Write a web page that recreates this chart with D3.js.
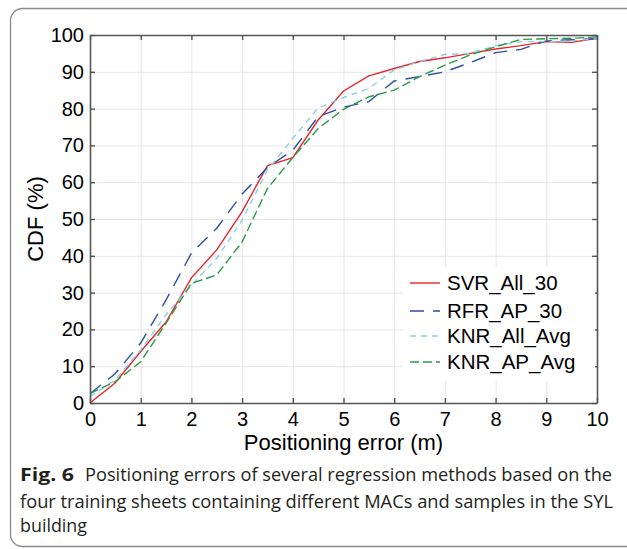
<!DOCTYPE html>
<html>
<head>
<meta charset="utf-8">
<script src="https://cdn.jsdelivr.net/npm/d3@7"></script>
<style>
body{margin:0;background:#fff;}
svg{display:block;}
</style>
</head>
<body>
<script>
// positioning error (m) sampled every 0.5 m
let errors = [0,0.5,1,1.5,2,2.5,3,3.5,4,4.5,5,5.5,6,6.5,7,7.5,8,8.5,9,9.5,10];
let svrAll30 = [0,5.5,14,22,34,41.6,52,64.5,66.7,76.9,84.8,88.9,90.9,92.8,93.8,95,96.2,97.1,98.2,98,99.1];
let rfrAp30  = [2.5,8,16.3,28,40.7,47.5,56.8,64,68.7,77.8,80.4,81.9,87.5,88.7,90,92.5,95.2,96.1,98.4,98.7,99];
let knrAllAvg= [1.7,6.3,14.4,24,32,39.3,49.7,63.3,71.9,80.2,83,85.5,90.5,92.8,94.7,95,97.1,98.2,98.2,98.4,99];
let knrApAvg = [2.6,5.8,11.2,21.7,32.5,34.8,43.8,58.3,66.7,74.6,79.8,83.2,85,88.7,91.8,94.6,96.8,98.8,99,99.1,99.5];
let seriesNames = ['SVR_All_30','RFR_AP_30','KNR_All_Avg','KNR_AP_Avg'];
let xTicks = [0,1,2,3,4,5,6,7,8,9,10];
let yTicks = [0,10,20,30,40,50,60,70,80,90,100];
let captionLines = [
  'Positioning errors of several regression methods based on the',
  'four training sheets containing different MACs and samples in the SYL',
  'building'
];

let width = 627, height = 549;
let pl = 90, pr = 597, pt = 35, pb = 403;
let colors = ['#e8262b','#2a4ea3','#86cfe2','#2a9a48'];
let dashes = [null,'14,9','6,5','9,4'];

let svg = d3.select('body').append('svg').attr('width',width).attr('height',height);

// figure frame
svg.append('rect')
  .attr('x',10.5).attr('y',8.5).attr('width',660).attr('height',538)
  .attr('rx',12).attr('fill','none').attr('stroke','#8a8a8a').attr('stroke-width',1.3);

let x = d3.scaleLinear().domain([0,10]).range([pl,pr]);
let y = d3.scaleLinear().domain([0,100]).range([pb,pt]);

// grid
svg.append('g').attr('transform',`translate(0,${pb})`)
  .call(d3.axisBottom(x).tickValues(xTicks).tickSize(-(pb-pt)).tickFormat(''))
  .call(g=>g.select('.domain').remove())
  .call(g=>g.selectAll('line').attr('stroke','#e6e6e6').attr('stroke-width',1));
svg.append('g').attr('transform',`translate(${pl},0)`)
  .call(d3.axisLeft(y).tickValues(yTicks).tickSize(-(pr-pl)).tickFormat(''))
  .call(g=>g.select('.domain').remove())
  .call(g=>g.selectAll('line').attr('stroke','#e6e6e6').attr('stroke-width',1));

// lines
let all = [svrAll30,rfrAp30,knrAllAvg,knrApAvg];
let line = d3.line().x((d,i)=>x(errors[i])).y(d=>y(d));
all.forEach((vals,k)=>{
  svg.append('path').datum(vals)
    .attr('d',line).attr('fill','none')
    .attr('stroke',colors[k]).attr('stroke-width',1.4)
    .attr('stroke-dasharray',dashes[k]);
});

// axes box with inward ticks
let axisColor = '#555';
let font = 'Liberation Sans, Arial, sans-serif';
function styleAxis(g){
  g.select('.domain').attr('stroke',axisColor).attr('stroke-width',1.6);
  g.selectAll('.tick line').attr('stroke',axisColor).attr('stroke-width',1.4);
  g.selectAll('text').attr('font-family',font).attr('font-size',20).attr('fill','#000');
}
svg.append('g').attr('transform',`translate(0,${pb})`)
  .call(d3.axisBottom(x).tickValues(xTicks).tickSize(-5).tickSizeOuter(0).tickPadding(9))
  .call(styleAxis);
svg.append('g').attr('transform',`translate(0,${pt})`)
  .call(d3.axisTop(x).tickValues(xTicks).tickSize(-5).tickSizeOuter(0).tickFormat(''))
  .call(styleAxis);
svg.append('g').attr('transform',`translate(${pl},0)`)
  .call(d3.axisLeft(y).tickValues(yTicks).tickSize(-5).tickSizeOuter(0).tickPadding(6))
  .call(styleAxis);
svg.append('g').attr('transform',`translate(${pr},0)`)
  .call(d3.axisRight(y).tickValues(yTicks).tickSize(-5).tickSizeOuter(0).tickFormat(''))
  .call(styleAxis);

// axis titles
svg.append('text').attr('x',(pl+pr)/2).attr('y',450)
  .attr('text-anchor','middle').attr('font-family',font).attr('font-size',22)
  .text('Positioning error (m)');
svg.append('text').attr('transform',`translate(43,${(pt+pb)/2}) rotate(-90)`)
  .attr('text-anchor','middle').attr('font-family',font).attr('font-size',22)
  .text('CDF (%)');

// legend
let legendRows = [283,311,336,362];
let lg = svg.append('g');
lg.append('rect').attr('x',403).attr('y',267).attr('width',192).attr('height',114).attr('fill','#fff');
seriesNames.forEach((name,k)=>{
  lg.append('line').attr('x1',410).attr('x2',440).attr('y1',legendRows[k]).attr('y2',legendRows[k])
    .attr('stroke',colors[k]).attr('stroke-width',1.4).attr('stroke-dasharray',dashes[k]);
  lg.append('text').attr('x',447).attr('y',legendRows[k]+7)
    .attr('font-family',font).attr('font-size',20.5).text(name);
});

// caption
let capFont = 'Open Sans, Noto Sans, sans-serif';
let cap = svg.append('g').attr('font-family',capFont).attr('font-size',17.5).attr('fill','#231f20');
cap.append('text').attr('x',20).attr('y',481).attr('font-weight','bold')
  .attr('textLength',54).attr('lengthAdjust','spacingAndGlyphs').text('Fig. 6');
let capWidths = [527,593,67];
let capX = [85,20,20];
let capY = [481,508,532];
captionLines.forEach((t,i)=>{
  cap.append('text').attr('x',capX[i]).attr('y',capY[i])
    .attr('textLength',capWidths[i]).attr('lengthAdjust','spacingAndGlyphs').text(t);
});
</script>
</body>
</html>
